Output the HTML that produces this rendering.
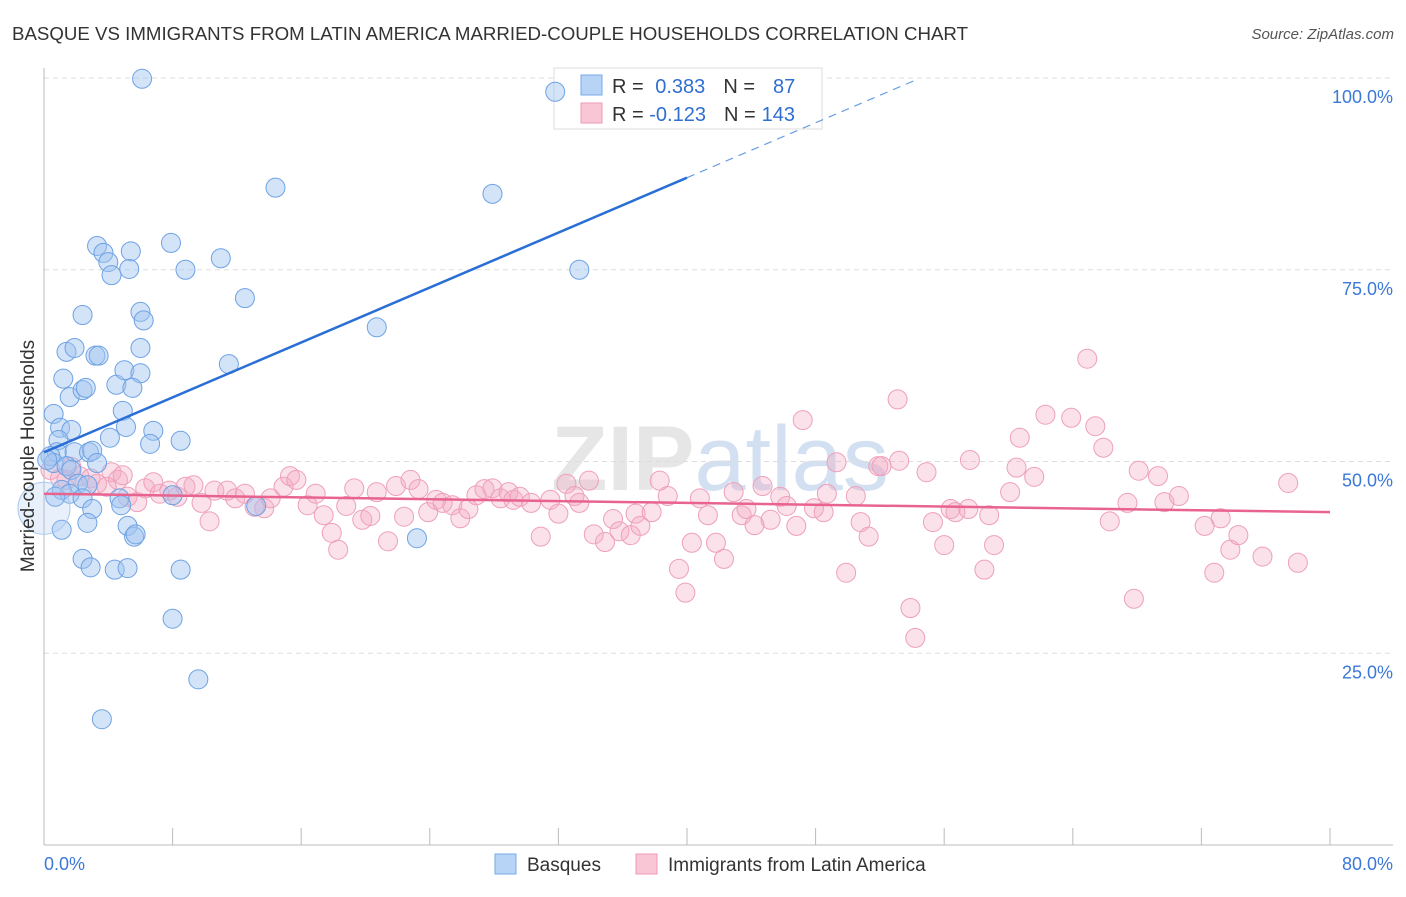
<!DOCTYPE html>
<html><head><meta charset="utf-8"><style>
html,body{margin:0;padding:0;background:#fff;}
body{width:1406px;height:892px;overflow:hidden;font-family:"Liberation Sans",sans-serif;}
</style></head><body>
<svg id="chart" width="1406" height="892" xmlns="http://www.w3.org/2000/svg" font-family="Liberation Sans, sans-serif">
<text x="12" y="40" font-size="18.5" fill="#333" textLength="956" lengthAdjust="spacingAndGlyphs">BASQUE VS IMMIGRANTS FROM LATIN AMERICA MARRIED-COUPLE HOUSEHOLDS CORRELATION CHART</text>
<text x="1394" y="39" font-size="15" fill="#555" text-anchor="end" font-style="italic">Source: ZipAtlas.com</text>
<text x="720" y="490" font-size="92" fill="#e6e6e6" text-anchor="middle" font-weight="bold">ZIP<tspan fill="#d3e0f2" font-weight="normal">atlas</tspan></text>
<g id="grid"></g>
<g id="axes"></g>
<g>
<rect x="554" y="68" width="268" height="61" fill="#fff" stroke="#ddd"/>
<rect x="581" y="75" width="21" height="20" fill="#b7d3f6" stroke="#7aaae8"/>
<rect x="581" y="103" width="21" height="20" fill="#f9c6d5" stroke="#ee9ab4"/>
<text x="612" y="93" font-size="20" fill="#333">R = <tspan fill="#2f6fd0" dx="6">0.383</tspan><tspan fill="#333" dx="18">N =</tspan><tspan fill="#2f6fd0" dx="18">87</tspan></text>
<text x="612" y="121" font-size="20" fill="#333">R = <tspan fill="#2f6fd0">-0.123</tspan><tspan fill="#333" dx="18">N =</tspan><tspan fill="#2f6fd0" dx="6">143</tspan></text>
</g>
<g id="points"></g>
<g id="trends"></g>
<text transform="translate(34,456) rotate(-90)" font-size="19" fill="#333" text-anchor="middle">Married-couple Households</text>
<g>
<rect x="495" y="854" width="21" height="20" fill="#b7d3f6" stroke="#7aaae8"/>
<text x="527" y="871" font-size="19" fill="#333">Basques</text>
<rect x="636" y="854" width="21" height="20" fill="#f9c6d5" stroke="#ee9ab4"/>
<text x="668" y="871" font-size="19" fill="#333">Immigrants from Latin America</text>
</g>
</svg>
<script>
const blueX=[6.1,31.8,14.4,27.9,3.3,3.7,5.4,7.9,4.0,4.2,5.3,8.8,11.0,12.5,33.3,2.4,6.0,6.2,20.7,1.4,1.9,3.2,3.4,6.0,11.5,1.2,4.5,5.0,6.0,5.5,1.6,2.4,2.6,0.6,4.9,1.0,1.7,5.1,6.8,8.5,4.1,0.9,6.6,0.8,0.4,1.9,2.8,3.0,3.3,0.6,0.2,1.4,1.7,2.1,2.7,1.1,1.6,0.7,2.4,4.7,4.8,3.0,8.0,13.2,1.1,2.7,5.2,5.6,5.7,23.2,2.4,2.9,4.4,5.2,8.5,8.0,9.6,3.6];
const blueY=[99.9,98.2,85.7,84.9,78.1,77.2,77.4,78.5,76.0,74.3,75.1,75.0,76.5,71.3,75.0,69.1,69.5,68.4,67.5,64.3,64.8,63.8,63.8,64.8,62.7,60.8,60.0,61.9,61.5,59.6,58.4,59.3,59.6,56.2,56.6,54.4,54.1,54.5,54.0,52.7,53.1,52.8,52.3,51.2,50.7,51.2,51.2,51.4,49.8,49.8,50.2,49.4,48.9,47.1,46.9,46.3,45.8,45.4,45.2,45.2,44.3,43.8,45.6,44.2,41.1,42.0,41.6,40.2,40.5,40.0,37.3,36.2,35.9,36.1,35.9,29.5,21.6,16.4];
const pinkX=[0.4,1.0,1.7,2.2,1.4,2.9,3.3,4.2,4.6,3.9,4.9,5.8,5.2,6.3,6.8,7.2,7.8,8.3,8.8,9.3,9.8,10.3,10.6,11.4,11.9,12.5,13.1,13.7,14.1,14.9,15.3,15.7,16.4,16.9,17.4,17.9,18.3,18.8,19.3,19.8,20.3,20.7,21.4,21.9,22.4,22.8,23.3,23.9,24.4,24.8,25.4,25.9,26.4,26.9,27.4,27.9,28.4,28.9,29.2,29.6,30.3,30.9,31.5,32.0,32.5,33.0,33.3,33.9,34.2,34.9,35.4,35.8,36.5,36.8,37.1,37.8,38.3,38.8,39.5,39.9,40.3,40.8,41.3,41.8,42.3,42.9,43.4,43.7,44.2,44.7,45.2,45.8,46.2,46.8,47.2,47.9,48.5,48.7,49.3,49.9,50.5,50.8,51.3,51.9,52.1,53.1,53.2,53.9,54.2,54.9,55.3,56.0,56.4,56.7,57.5,57.6,58.5,58.8,59.1,60.1,60.5,60.7,61.6,62.3,63.9,64.9,65.4,65.9,66.3,67.4,67.8,68.1,69.3,69.7,70.6,72.2,72.8,73.2,73.8,74.3,75.8,77.4,78.0];
const pinkY=[48.9,47.8,49.3,48.1,47.6,47.8,47.1,48.6,47.6,46.7,48.2,44.7,45.4,46.5,47.3,45.8,46.2,45.4,46.7,46.9,44.6,42.2,46.2,46.2,45.2,45.8,44.1,43.9,45.2,46.7,48.1,47.6,44.3,45.8,43.0,40.7,38.5,44.2,46.5,42.4,42.9,46.0,39.6,46.8,42.8,47.6,46.4,43.4,45.0,44.6,44.3,42.6,43.8,45.6,46.4,46.5,45.2,46.0,45.0,45.4,44.6,40.2,45.0,43.2,47.1,45.5,44.6,47.5,40.5,39.5,42.5,40.9,40.4,43.2,41.6,43.4,47.5,45.5,36.0,32.9,39.4,45.2,43.0,39.4,37.3,46.0,43.0,43.8,41.7,46.8,42.4,45.4,44.2,41.6,55.4,43.9,43.4,45.8,49.9,35.5,45.5,42.1,40.2,49.4,49.4,58.1,50.1,30.9,27.0,48.6,42.1,39.1,43.8,43.4,43.8,50.2,35.9,43.0,39.1,46.0,49.2,53.1,48.0,56.1,55.7,63.4,54.6,51.8,42.2,44.6,32.1,48.8,48.1,44.7,45.5,41.6,35.5,42.6,38.5,40.4,37.6,47.2,36.8];
const blueTrend=[51.2,0.895];
const pinkTrend=[45.8,-0.030];
const yTicks=[25,50,75,100];
const yTickLabels=["25.0%","50.0%","75.0%","100.0%"];
const xTicks=[0,8,16,24,32,40,48,56,64,72,80];

const NS="http://www.w3.org/2000/svg";
const X0=44,X1=1330,Y0=845,Y100=78;
function sx(v){return X0+(X1-X0)*v/80;}
function sy(v){return Y0-(Y0-Y100)*v/100;}
function mk(tag,attrs,parent){const e=document.createElementNS(NS,tag);for(const k in attrs)e.setAttribute(k,attrs[k]);parent.appendChild(e);return e;}
const grid=document.getElementById('grid'),axes=document.getElementById('axes'),pts=document.getElementById('points'),tr=document.getElementById('trends');
yTicks.forEach((t,i)=>{
  const l=mk('line',{x1:X0,x2:1393,y1:sy(t),y2:sy(t),stroke:'#ddd','stroke-dasharray':'5,4'},grid);
  
  
  const tx=mk('text',{x:1393,y:sy(t)+25,'font-size':18,fill:'#3b78d8','text-anchor':'end'},axes);
  tx.textContent=yTickLabels[i];
  
  
});
const ya=mk('line',{x1:X0,x2:X0,y1:68,y2:Y0,stroke:'#bbb'},axes);


const xa=mk('line',{x1:X0,x2:1393,y1:Y0,y2:Y0,stroke:'#bbb'},axes);


xTicks.forEach(t=>{
  const l=mk('line',{x1:sx(t),x2:sx(t),y1:828,y2:Y0,stroke:'#bbb'},axes);
  
  
});
const xl0=mk('text',{x:44,y:870,'font-size':18,fill:'#3b78d8'},axes);xl0.textContent='0.0%';


const xl1=mk('text',{x:1393,y:870,'font-size':18,fill:'#3b78d8','text-anchor':'end'},axes);xl1.textContent='80.0%';



pinkX.forEach((x,i)=>{
  const c=mk('circle',{cx:sx(x),cy:sy(pinkY[i]),r:9.5,fill:'rgba(244,168,194,0.35)',stroke:'#eea0ba','stroke-width':1},pts);
  
  
});
blueX.forEach((x,i)=>{
  const c=mk('circle',{cx:sx(x),cy:sy(blueY[i]),r:9.5,fill:'rgba(160,196,240,0.45)',stroke:'#6ea2e4','stroke-width':1},pts);
  
  
});
const big=mk('circle',{cx:sx(0),cy:sy(43.9),r:26,fill:'rgba(160,196,240,0.25)',stroke:'#a9c8ef'},pts);



const b1=mk('line',{x1:sx(0),y1:sy(blueTrend[0]),x2:sx(40),y2:sy(blueTrend[0]+blueTrend[1]*40),stroke:'#2a6fd6','stroke-width':2.5},tr);


const b2=mk('line',{x1:sx(40),y1:sy(blueTrend[0]+blueTrend[1]*40),x2:sx(54.2),y2:sy(blueTrend[0]+blueTrend[1]*54.2),stroke:'#6a9ee4','stroke-width':1.2,'stroke-dasharray':'8,6'},tr);


const p1=mk('line',{x1:sx(0),y1:sy(pinkTrend[0]),x2:sx(80),y2:sy(pinkTrend[0]+pinkTrend[1]*80),stroke:'#e8648f','stroke-width':2.5},tr);


</script>
</body></html>
